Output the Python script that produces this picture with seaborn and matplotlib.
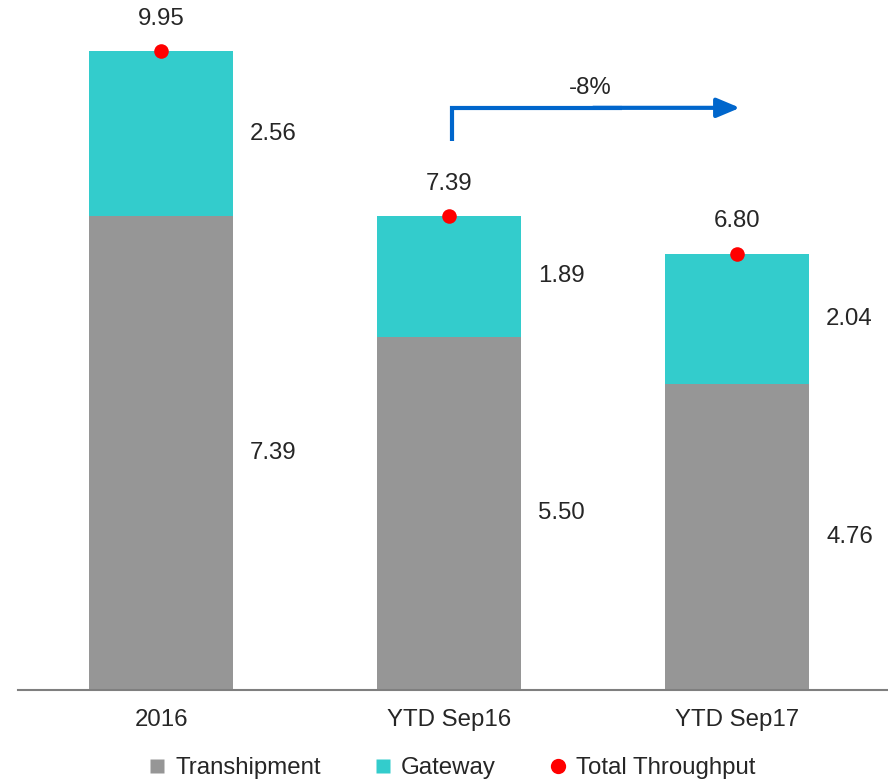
import matplotlib
matplotlib.use("Agg")
import matplotlib.pyplot as plt
from matplotlib.lines import Line2D
import seaborn as sns
import pandas as pd

categories = ["2016", "YTD Sep16", "YTD Sep17"]
transhipment = [7.39, 5.50, 4.76]
gateway = [2.56, 1.89, 2.04]
total = [9.95, 7.39, 6.80]
change_label = "-8%"

sns.set_theme(style="white")
plt.rcParams['font.family'] = ['Liberation Sans', 'DejaVu Sans']

GREY = "#969696"
TEAL = "#33CCCC"
RED = "#FF0000"
BLUE = "#0066CC"
TXT = "#262626"
FS = 17.3

df = pd.DataFrame({"cat": categories, "trans": transhipment, "gate": gateway, "total": total})

fig = plt.figure(figsize=(8.88, 7.82), dpi=100)
ax = fig.add_axes([18/888, 92/782, 870/888, 690/782])

sns.barplot(data=df, x="cat", y="total", color=TEAL, width=0.5, saturation=1, ax=ax,
            zorder=2, linewidth=0, edgecolor="none")
sns.barplot(data=df, x="cat", y="trans", color=GREY, width=0.5, saturation=1, ax=ax,
            zorder=3, linewidth=0, edgecolor="none")
ax.scatter(range(len(categories)), df["total"], s=110, color=RED, zorder=5, linewidths=0)

for i, (t, g, tot) in enumerate(zip(transhipment, gateway, total)):
    ax.text(i + 0.309, t / 2, f"{t:.2f}", ha="left", va="center", fontsize=FS, color=TXT)
    ax.text(i + 0.309, t + g / 2, f"{g:.2f}", ha="left", va="center", fontsize=FS, color=TXT)
    ax.text(i, tot + 0.5, f"{tot:.2f}", ha="center", va="center", fontsize=FS, color=TXT)

# change arrow
ax.plot([1.01, 1.01, 1.6], [8.56, 9.07, 9.07], color=BLUE, lw=3, solid_capstyle="butt",
        solid_joinstyle="miter", zorder=4)
ax.annotate("", xy=(2.01, 9.07), xytext=(1.5, 9.07),
            arrowprops=dict(arrowstyle="-|>,head_length=1.0,head_width=0.42", color=BLUE, lw=3,
                            mutation_scale=14, shrinkA=0, shrinkB=0), zorder=4)
ax.text(1.49, 9.38, change_label, ha="center", va="center", fontsize=FS, color=TXT)

ax.set_xlim(-0.497, 2.524)
ax.set_ylim(0, 10.75)
ax.set_xlabel("")
ax.set_ylabel("")
ax.set_yticks([])
ax.tick_params(axis="x", length=0, pad=14, labelsize=FS, labelcolor=TXT)
for s in ["top", "right", "left"]:
    ax.spines[s].set_visible(False)
ax.spines["bottom"].set_color("#7f7f7f")
ax.spines["bottom"].set_linewidth(1.5)
ax.spines["bottom"].set_zorder(6)

handles = [
    Line2D([], [], marker="s", color="none", markerfacecolor=GREY, markeredgecolor="none", markersize=10),
    Line2D([], [], marker="s", color="none", markerfacecolor=TEAL, markeredgecolor="none", markersize=10),
    Line2D([], [], marker="o", color="none", markerfacecolor=RED, markeredgecolor="none", markersize=11),
]
fig.legend(handles, ["Transhipment", "Gateway", "Total Throughput"], loc="center",
           bbox_to_anchor=(0.51, 0.018), ncol=3, frameon=False, fontsize=FS,
           handlelength=0.6, handletextpad=0.45, columnspacing=2.3, labelcolor=TXT)

fig.savefig("out.png", dpi=100)
